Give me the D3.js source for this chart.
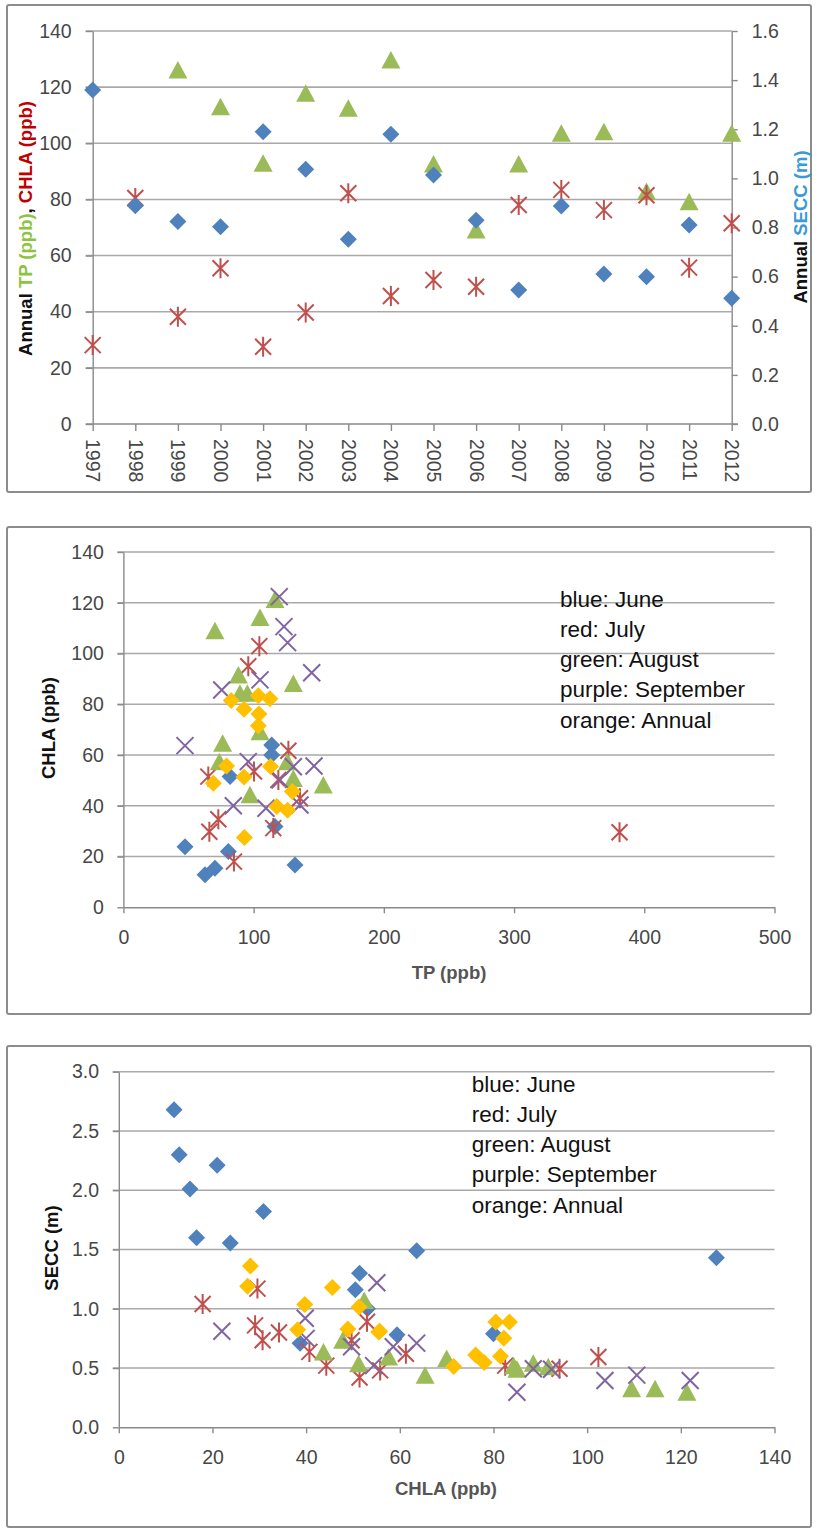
<!DOCTYPE html>
<html>
<head>
<meta charset="utf-8">
<script src="https://cdn.jsdelivr.net/npm/d3@7"></script>
<style>
  body { margin: 0; background: #fff; }
  svg text { font-family: "Liberation Sans", Arial, sans-serif; }
</style>
</head>
<body>
<svg id="chart" width="817" height="1529"></svg>
<script>
// ---- Panel 1: annual values by year
const years = [1997, 1998, 1999, 2000, 2001, 2002, 2003, 2004, 2005, 2006, 2007, 2008, 2009, 2010, 2011, 2012];
const annualTP = [null, null, 126.1, 113.0, 92.9, 117.8, 112.5, 129.7, 92.6, 69.1, 92.6, 103.6, 104.1, 82.8, 79.2, 103.6];
const annualCHLA = [28.1, 80.5, 38.2, 55.5, 27.5, 39.7, 82.2, 45.6, 51.3, 48.9, 78.0, 83.4, 76.2, 81.5, 55.7, 71.5];
const annualSECC = [1.36, 0.889, 0.824, 0.803, 1.19, 1.037, 0.752, 1.18, 1.014, 0.83, 0.546, 0.888, 0.611, 0.60, 0.81, 0.512];

// ---- Panel 2: CHLA vs TP by month
const juneTP = [47.3, 62.7, 70.3, 80.6, 131.8, 113.9, 113.9, 81.9, 116.4];
const juneCHLA = [23.9, 12.8, 15.4, 22.0, 16.7, 64.0, 60.0, 51.5, 31.8];
const julyTP = [104.4, 95.9, 126.7, 65.2, 100.3, 119.0, 135.6, 72.9, 66.0, 115.1, 84.9, 381.0];
const julyCHLA = [102.9, 95.0, 61.7, 51.5, 53.5, 50.2, 43.0, 34.7, 29.8, 31.2, 18.0, 29.6];
const augTP = [116.4, 104.9, 70.3, 88.3, 130.5, 89.5, 95.2, 104.9, 76.2, 73.7, 125.9, 130.5, 153.5, 97.2];
const augCHLA = [121.3, 114.2, 109.0, 91.5, 88.2, 84.3, 84.3, 69.2, 64.6, 57.4, 57.4, 50.8, 48.2, 44.3];
const sepTP = [119.7, 123.3, 126.1, 144.6, 104.9, 75.5, 47.3, 95.9, 146.4, 130.5, 120.3, 84.4, 109.5, 135.6];
const sepCHLA = [122.4, 110.6, 104.3, 92.4, 89.6, 85.6, 63.7, 57.4, 55.7, 55.4, 50.2, 40.0, 39.0, 40.3];

// ---- Panel 3: SECC vs CHLA by month
const juneCHLA3 = [11.8, 12.9, 21.0, 15.2, 30.9, 16.6, 23.8, 63.6, 127.6, 51.4, 50.5, 53.1, 38.7, 59.4, 80.0];
const juneSECC = [2.68, 2.30, 2.21, 2.01, 1.82, 1.60, 1.555, 1.49, 1.43, 1.30, 1.16, 1.00, 0.71, 0.78, 0.79];
const julyCHLA3 = [17.9, 29.6, 29.1, 30.7, 34.2, 40.7, 44.3, 51.4, 49.7, 53.0, 55.8, 61.3, 82.5, 94.1, 102.4];
const julySECC = [1.04, 1.17, 0.86, 0.735, 0.80, 0.636, 0.52, 0.42, 0.735, 0.89, 0.48, 0.62, 0.52, 0.494, 0.593];
const augCHLA3 = [52.4, 47.8, 43.7, 51.2, 57.6, 65.4, 70.0, 84.3, 85.0, 88.5, 91.7, 109.5, 114.5, 121.3];
const augSECC = [1.07, 0.735, 0.636, 0.537, 0.594, 0.44, 0.58, 0.52, 0.49, 0.54, 0.51, 0.325, 0.325, 0.296];
const sepCHLA3 = [22.0, 39.8, 40.0, 55.1, 49.7, 54.4, 58.6, 63.6, 85.0, 88.5, 92.4, 103.8, 110.6, 122.0];
const sepSECC = [0.81, 0.92, 0.75, 1.22, 0.68, 0.52, 0.68, 0.71, 0.296, 0.494, 0.49, 0.395, 0.44, 0.395];

const legendLines = ['blue: June', 'red: July', 'green: August', 'purple: September', 'orange: Annual'];

const colors = {
    blue: '#4F81BD',
    red: '#C0504D',
    green: '#9BBB59',
    purple: '#8064A2',
    orange: '#FFC000'
};

const svg = d3.select('#chart');
const gridColor = '#a9a9a9';
const axisColor = '#8a8a8a';
const labelColor = '#474747';

// chart frames
[[5, 487], [527, 487], [1046, 481]].forEach(([y, h]) => {
    svg.append('rect')
        .attr('x', 7).attr('y', y)
        .attr('width', 804).attr('height', h)
        .attr('rx', 2)
        .attr('fill', '#fff')
        .attr('stroke', '#8c8c8c')
        .attr('stroke-width', 2);
});

// marker shapes, Excel style
function drawMarkers(g, xs, ys, xScale, yScale, kind, color) {
    const pts = xs.map((v, i) => [v, ys[i]]).filter(d => d[0] != null && d[1] != null);
    const sel = g.append('g')
        .selectAll('g')
        .data(pts)
        .join('g')
        .attr('transform', d => `translate(${xScale(d[0])},${yScale(d[1])})`);

    if (kind === 'diamond') {
        sel.append('path').attr('d', 'M0,-8.5L8.5,0L0,8.5L-8.5,0Z').attr('fill', color);
    } else if (kind === 'triangle') {
        sel.append('path').attr('d', 'M0,-9L9.5,8.5L-9.5,8.5Z').attr('fill', color);
    } else if (kind === 'star') {
        sel.append('path')
            .attr('d', 'M-8,-8L8,8M-8,8L8,-8M0,-10V10')
            .attr('stroke', color).attr('stroke-width', 2).attr('fill', 'none');
    } else if (kind === 'x') {
        sel.append('path')
            .attr('d', 'M-8.5,-8.5L8.5,8.5M-8.5,8.5L8.5,-8.5')
            .attr('stroke', color).attr('stroke-width', 2).attr('fill', 'none');
    }
}

function gridlines(g, yScale, ticks, x0, x1) {
    g.append('g')
        .selectAll('line')
        .data(ticks)
        .join('line')
        .attr('x1', x0).attr('x2', x1)
        .attr('y1', d => yScale(d)).attr('y2', d => yScale(d))
        .attr('stroke', gridColor)
        .attr('stroke-width', 1.6);
}

function styleAxis(sel) {
    sel.select('.domain').attr('stroke', axisColor).attr('stroke-width', 1.4);
    sel.selectAll('.tick line').attr('stroke', axisColor).attr('stroke-width', 1.4);
    sel.selectAll('text')
        .attr('fill', labelColor)
        .style('font-size', '19.5px');
}

function legend(g, x, y0) {
    g.append('g')
        .selectAll('text')
        .data(legendLines)
        .join('text')
        .attr('x', x)
        .attr('y', (d, i) => y0 + i * 30.2)
        .attr('fill', '#111')
        .style('font-size', '22.5px')
        .text(d => d);
}

function axisTitle(g, x, y, text, rotate, color) {
    g.append('text')
        .attr('transform', `translate(${x},${y})` + (rotate ? ' rotate(-90)' : ''))
        .attr('text-anchor', 'middle')
        .attr('fill', color)
        .style('font-size', '18.5px')
        .style('font-weight', 'bold')
        .text(text);
}

// ================= Panel 1 =================
{
    const g = svg.append('g');
    const x = d3.scalePoint().domain(years).range([92.7, 731.7]);
    const yL = d3.scaleLinear().domain([0, 140]).range([424, 31]);
    const yR = d3.scaleLinear().domain([0, 1.6]).range([424, 31]);

    gridlines(g, yL, d3.range(20, 141, 20), 85.7, 731.7);

    g.append('g')
        .attr('transform', 'translate(92.7,0)')
        .call(d3.axisLeft(yL).tickValues(d3.range(0, 141, 20)).tickSize(7).tickSizeOuter(0).tickPadding(14))
        .call(styleAxis);

    g.append('g')
        .attr('transform', 'translate(731.7,0)')
        .call(d3.axisRight(yR).tickValues(d3.range(0, 1.61, 0.2)).tickFormat(d3.format('.1f')).tickSize(6).tickSizeOuter(0).tickPadding(14))
        .call(styleAxis);

    const xAxis = g.append('g')
        .attr('transform', 'translate(0,424)')
        .call(d3.axisBottom(x).tickSize(7).tickSizeOuter(0))
        .call(styleAxis);
    xAxis.select('.domain').attr('d', 'M85.7,0H738');
    xAxis.selectAll('text')
        .attr('y', 0).attr('x', 15).attr('dy', '0.36em')
        .attr('transform', 'rotate(90)')
        .style('text-anchor', 'start');

    drawMarkers(g, years, annualTP, x, yL, 'triangle', colors.green);
    drawMarkers(g, years, annualCHLA, x, yL, 'star', colors.red);
    drawMarkers(g, years, annualSECC, x, yR, 'diamond', colors.blue);

    // left title, multi-coloured
    const lt = g.append('text')
        .attr('transform', 'translate(31.5,228.5) rotate(-90)')
        .attr('text-anchor', 'middle')
        .style('font-size', '18.5px')
        .style('font-weight', 'bold');
    lt.append('tspan').attr('fill', '#111').text('Annual ');
    lt.append('tspan').attr('fill', '#8DC33F').text('TP (ppb)');
    lt.append('tspan').attr('fill', '#111').text(', ');
    lt.append('tspan').attr('fill', '#C00000').text('CHLA (ppb)');

    const rt = g.append('text')
        .attr('transform', 'translate(807,227) rotate(-90)')
        .attr('text-anchor', 'middle')
        .style('font-size', '18.5px')
        .style('font-weight', 'bold');
    rt.append('tspan').attr('fill', '#111').text('Annual ');
    rt.append('tspan').attr('fill', '#3A9AD9').text('SECC (m)');
}

// ================= Panel 2 =================
{
    const g = svg.append('g');
    const x = d3.scaleLinear().domain([0, 500]).range([123.4, 774.5]);
    const y = d3.scaleLinear().domain([0, 140]).range([907.3, 552]);

    gridlines(g, y, d3.range(20, 141, 20), 117.4, 774.5);

    g.append('g')
        .attr('transform', 'translate(123.4,0)')
        .call(d3.axisLeft(y).tickValues(d3.range(0, 141, 20)).tickSize(6).tickSizeOuter(0).tickPadding(13.5))
        .call(styleAxis);

    g.append('g')
        .attr('transform', 'translate(0,907.3)')
        .call(d3.axisBottom(x).tickValues(d3.range(0, 501, 100)).tickSize(6).tickSizeOuter(0).tickPadding(16.5))
        .call(styleAxis);

    drawMarkers(g, juneTP, juneCHLA, x, y, 'diamond', colors.blue);
    drawMarkers(g, julyTP, julyCHLA, x, y, 'star', colors.red);
    drawMarkers(g, augTP, augCHLA, x, y, 'triangle', colors.green);
    drawMarkers(g, sepTP, sepCHLA, x, y, 'x', colors.purple);
    drawMarkers(g, annualTP, annualCHLA, x, y, 'diamond', colors.orange);

    legend(g, 560, 606.7);
    axisTitle(g, 55, 728, 'CHLA (ppb)', true, '#111');
    axisTitle(g, 449, 978.5, 'TP (ppb)', false, '#555');
}

// ================= Panel 3 =================
{
    const g = svg.append('g');
    const x = d3.scaleLinear().domain([0, 140]).range([118.8, 774.5]);
    const y = d3.scaleLinear().domain([0, 3]).range([1427.3, 1071.7]);

    gridlines(g, y, d3.range(0.5, 3.01, 0.5), 112.8, 774.5);

    g.append('g')
        .attr('transform', 'translate(118.8,0)')
        .call(d3.axisLeft(y).tickValues(d3.range(0, 3.01, 0.5)).tickFormat(d3.format('.1f')).tickSize(6).tickSizeOuter(0).tickPadding(13.8))
        .call(styleAxis);

    g.append('g')
        .attr('transform', 'translate(0,1427.3)')
        .call(d3.axisBottom(x).tickValues(d3.range(0, 141, 20)).tickSize(6).tickSizeOuter(0).tickPadding(16.5))
        .call(styleAxis);

    drawMarkers(g, juneCHLA3, juneSECC, x, y, 'diamond', colors.blue);
    drawMarkers(g, julyCHLA3, julySECC, x, y, 'star', colors.red);
    drawMarkers(g, augCHLA3, augSECC, x, y, 'triangle', colors.green);
    drawMarkers(g, sepCHLA3, sepSECC, x, y, 'x', colors.purple);
    drawMarkers(g, annualCHLA, annualSECC, x, y, 'diamond', colors.orange);

    legend(g, 471.7, 1091.7);
    axisTitle(g, 57.5, 1248, 'SECC (m)', true, '#111');
    axisTitle(g, 446, 1495, 'CHLA (ppb)', false, '#555');
}
</script>
</body>
</html>
